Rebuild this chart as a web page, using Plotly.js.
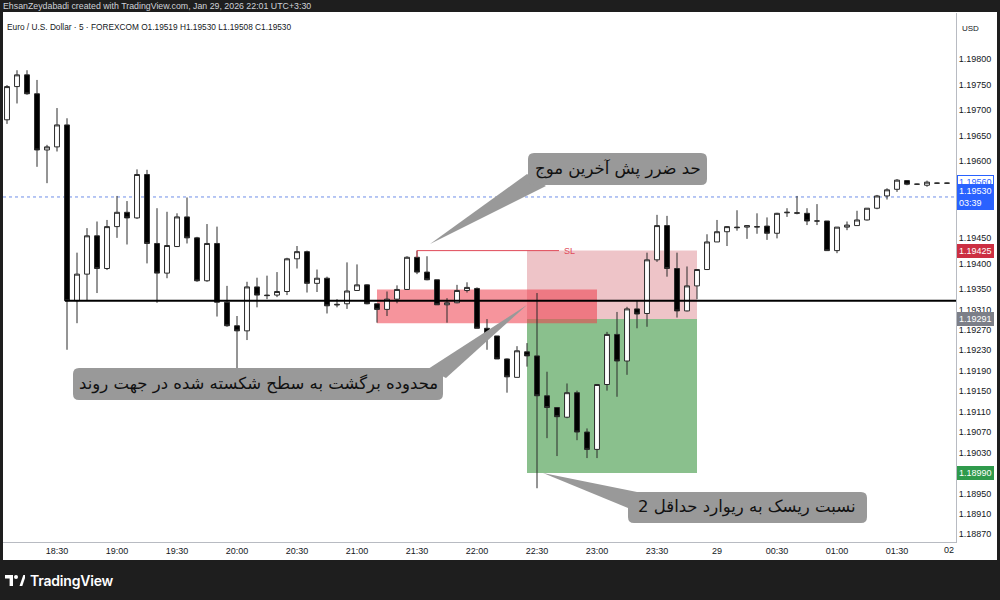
<!DOCTYPE html>
<html>
<head>
<meta charset="utf-8">
<script src="https://cdn.plot.ly/plotly-3.0.1.min.js"></script>
<style>
html,body{margin:0;padding:0;background:#1e1e1e;width:1000px;height:600px;overflow:hidden;position:relative;}
#topbar{position:absolute;left:3px;top:0;height:12px;line-height:13px;font-family:"Liberation Sans",Arial,sans-serif;font-size:8.8px;color:#cfd2d8;white-space:nowrap;}
#chart{position:absolute;left:3px;top:12px;width:994px;height:548px;background:#fff;}
#brand{position:absolute;left:5px;top:571px;height:18px;display:flex;align-items:center;}
#brand span{font-family:Inter,"Liberation Sans",sans-serif;font-size:14px;font-weight:600;color:#ffffff;margin-left:5px;letter-spacing:-0.2px;}
</style>
</head>
<body>
<div id="topbar">EhsanZeydabadi created with TradingView.com, Jan 29, 2026 22:01 UTC+3:30</div>
<div id="chart"></div>
<div id="brand">
<svg width="20" height="11" viewBox="0 0 20 11"><path d="M0,0 H8 V11 H4.6 V3.6 H0 Z" fill="#fff"/><circle cx="11" cy="2" r="2" fill="#fff"/><path d="M14.5,11 L18.3,0 H21 L17.3,11 Z" fill="#fff"/></svg>
<span>TradingView</span>
</div>
<script>
// ---- data (5-minute EUR/USD bars) ----
var times = ["18:05","18:10","18:15","18:20","18:25","18:30","18:35","18:40","18:45","18:50","18:55",
"19:00","19:05","19:10","19:15","19:20","19:25","19:30","19:35","19:40","19:45","19:50","19:55",
"20:00","20:05","20:10","20:15","20:20","20:25","20:30","20:35","20:40","20:45","20:50","20:55",
"21:00","21:05","21:10","21:15","21:20","21:25","21:30","21:35","21:40","21:45","21:50","21:55",
"22:00","22:05","22:10","22:15","22:20","22:25","22:30","22:35","22:40","22:45","22:50","22:55",
"23:00","23:05","23:10","23:15","23:20","23:25","23:30","23:35","23:40","23:45","23:50","23:55",
"00:00","00:05","00:10","00:15","00:20","00:25","00:30","00:35","00:40","00:45","00:50","00:55",
"01:00","01:05","01:10","01:15","01:20","01:25","01:30","01:35","01:40","01:45","01:50","01:55"];

var open = [1.19681,1.19746,1.19769,1.19732,1.19622,1.19628,1.19671,1.19327,1.19379,1.19454,1.19390,
1.19472,1.19500,1.19489,1.19574,1.19439,1.19381,1.19433,1.19491,1.19450,1.19366,1.19439,1.19324,
1.19278,1.19268,1.19354,1.19338,1.19338,1.19345,1.19409,1.19423,1.19361,1.19371,1.19320,1.19321,
1.19347,1.19358,1.19321,1.19310,1.19330,1.19349,1.19412,1.19383,1.19368,1.19319,1.19323,1.19347,
1.19351,1.19273,1.19258,1.19213,1.19177,1.19227,1.19219,1.19141,1.19118,1.19099,1.19147,1.19070,
1.19036,1.19163,1.19261,1.19209,1.19311,1.19302,1.19407,1.19474,1.19390,1.19307,1.19356,1.19388,
1.19442,1.19462,1.19471,1.19471,1.19471,1.19473,1.19459,1.19499,1.19498,1.19498,1.19483,1.19483,
1.19425,1.19471,1.19474,1.19485,1.19508,1.19532,1.19545,1.19562,1.19555,1.19553,1.19557,1.19557];

var high = [1.19749,1.19778,1.19778,1.19759,1.19632,1.19704,1.19684,1.19421,1.19469,1.19482,1.19485,
1.19532,1.19522,1.19584,1.19583,1.19508,1.19501,1.19498,1.19529,1.19452,1.19477,1.19472,1.19356,
1.19297,1.19364,1.19372,1.19376,1.19383,1.19411,1.19434,1.19425,1.19388,1.19374,1.19330,1.19402,
1.19398,1.19359,1.19321,1.19345,1.19357,1.19414,1.19425,1.19414,1.19368,1.19332,1.19358,1.19363,
1.19353,1.19291,1.19258,1.19214,1.19238,1.19244,1.19342,1.19188,1.19119,1.19165,1.19151,1.19077,
1.19164,1.19266,1.19305,1.19315,1.19327,1.19421,1.19495,1.19493,1.19421,1.19394,1.19389,1.19457,
1.19485,1.19473,1.19504,1.19475,1.19498,1.19490,1.19499,1.19508,1.19532,1.19508,1.19516,1.19483,
1.19471,1.19482,1.19503,1.19508,1.19534,1.19547,1.19565,1.19563,1.19556,1.19562,1.19558,1.19558];

var low = [1.19673,1.19713,1.19730,1.19589,1.19557,1.19619,1.19231,1.19283,1.19328,1.19342,1.19387,
1.19450,1.19437,1.19487,1.19400,1.19323,1.19371,1.19432,1.19439,1.19364,1.19364,1.19296,1.19276,
1.19186,1.19250,1.19314,1.19330,1.19334,1.19338,1.19390,1.19343,1.19344,1.19302,1.19314,1.19311,
1.19347,1.19320,1.19284,1.19297,1.19322,1.19348,1.19379,1.19367,1.19319,1.19284,1.19322,1.19343,
1.19273,1.19231,1.19213,1.19147,1.19177,1.19198,1.18960,1.19058,1.19023,1.19097,1.19054,1.19019,
1.19019,1.19151,1.19139,1.19182,1.19273,1.19276,1.19403,1.19374,1.19294,1.19306,1.19330,1.19387,
1.19442,1.19434,1.19464,1.19448,1.19458,1.19446,1.19449,1.19491,1.19496,1.19475,1.19475,1.19425,
1.19420,1.19465,1.19474,1.19484,1.19506,1.19525,1.19540,1.19553,1.19554,1.19550,1.19556,1.19556];

var close = [1.19746,1.19769,1.19732,1.19622,1.19628,1.19671,1.19327,1.19379,1.19454,1.19390,1.19472,
1.19500,1.19489,1.19574,1.19439,1.19381,1.19435,1.19491,1.19450,1.19366,1.19439,1.19324,1.19278,
1.19268,1.19354,1.19338,1.19337,1.19345,1.19409,1.19423,1.19361,1.19371,1.19317,1.19319,1.19346,
1.19358,1.19321,1.19310,1.19330,1.19349,1.19412,1.19383,1.19368,1.19319,1.19323,1.19347,1.19353,
1.19273,1.19258,1.19213,1.19178,1.19229,1.19219,1.19141,1.19118,1.19100,1.19147,1.19070,1.19036,
1.19163,1.19261,1.19209,1.19311,1.19301,1.19407,1.19474,1.19390,1.19307,1.19356,1.19388,1.19442,
1.19462,1.19472,1.19470,1.19474,1.19472,1.19459,1.19498,1.19500,1.19499,1.19483,1.19483,1.19425,
1.19471,1.19475,1.19485,1.19508,1.19532,1.19544,1.19563,1.19555,1.19555,1.19559,1.19557,1.19557];

// axis ticks
var xTickTimes = ["2026-01-28 18:30","2026-01-28 19:00","2026-01-28 19:30","2026-01-28 20:00","2026-01-28 20:30",
"2026-01-28 21:00","2026-01-28 21:30","2026-01-28 22:00","2026-01-28 22:30","2026-01-28 23:00","2026-01-28 23:30",
"2026-01-29 00:00","2026-01-29 00:30","2026-01-29 01:00","2026-01-29 01:30"];
var xTickLabels = ["18:30","19:00","19:30","20:00","20:30","21:00","21:30","22:00","22:30","23:00","23:30","29","00:30","01:00","01:30"];
var yTickVals = [1.19800,1.19750,1.19700,1.19650,1.19600,1.19450,1.19400,1.19350,1.19310,1.19270,1.19230,
1.19190,1.19150,1.19110,1.19070,1.19030,1.18950,1.18910,1.18870];

// key price levels from the drawing
var levelBreak = 1.19327;     // broken level (black line)
var zoneTop = 1.19349, zoneBottom = 1.19283;   // retest zone
var stopLoss = 1.19425, entry = 1.19291, target = 1.18990;
var lastPrice = 1.19530, alertPrice = 1.19560;

var dates = times.map(function(t){ return (t < "12:00" ? "2026-01-29 " : "2026-01-28 ") + t; });

var trace = {
  type: 'candlestick',
  x: dates, open: open, high: high, low: low, close: close,
  increasing: {line: {color: '#2a2a2a', width: 1}, fillcolor: '#ffffff'},
  decreasing: {line: {color: '#2a2a2a', width: 1}, fillcolor: '#000000'},
  hoverinfo: 'skip'
};

// page-pixel helpers for the drawn callouts (plot area: page x 3..956, y 13..542)
function px(X){ return (X - 3) / 953; }
function py(Y){ return (542 - Y) / 529; }
function rrect(x0, y0, x1, y1, r){
  var a = px(x0), b = px(x1), t = py(y0), u = py(y1), rx = r / 953, ry = r / 529;
  return 'M' + (a + rx) + ',' + t + ' L' + (b - rx) + ',' + t + ' Q' + b + ',' + t + ' ' + b + ',' + (t - ry) +
    ' L' + b + ',' + (u + ry) + ' Q' + b + ',' + u + ' ' + (b - rx) + ',' + u +
    ' L' + (a + rx) + ',' + u + ' Q' + a + ',' + u + ' ' + a + ',' + (u + ry) +
    ' L' + a + ',' + (t - ry) + ' Q' + a + ',' + t + ' ' + (a + rx) + ',' + t + ' Z';
}
function poly(pts){
  return pts.map(function(p, i){ return (i ? 'L' : 'M') + px(p[0]) + ',' + py(p[1]); }).join(' ') + ' Z';
}
var calloutGrey = '#999999';

var shapes = [
  {type:'line', xref:'paper', yref:'y', x0:0, x1:1, y0:lastPrice, y1:lastPrice, line:{color:'#6f8fe8', width:1, dash:'dot'}, layer:'below'},
  {type:'rect', xref:'x', yref:'y', x0:'2026-01-28 22:25', x1:'2026-01-28 23:50', y0:entry, y1:stopLoss,
   fillcolor:'rgba(210,100,110,0.38)', line:{width:0}, layer:'below'},
  {type:'rect', xref:'x', yref:'y', x0:'2026-01-28 22:25', x1:'2026-01-28 23:50', y0:target, y1:entry,
   fillcolor:'rgba(60,150,65,0.6)', line:{width:0}, layer:'below'},
  {type:'rect', xref:'x', yref:'y', x0:'2026-01-28 21:10', x1:'2026-01-28 23:00', y0:zoneBottom, y1:zoneTop,
   fillcolor:'rgba(238,60,75,0.55)', line:{width:0}, layer:'below'},
  {type:'line', xref:'x', yref:'y', x0:'2026-01-28 18:34', x1:'2026-01-29 03:00', y0:levelBreak, y1:levelBreak,
   line:{color:'#000000', width:2}, layer:'above'},
  {type:'line', xref:'x', yref:'y', x0:'2026-01-28 21:30', x1:'2026-01-28 21:30', y0:1.19412, y1:stopLoss,
   line:{color:'#e04a58', width:1}, layer:'above'},
  {type:'line', xref:'x', yref:'y', x0:'2026-01-28 21:30', x1:'2026-01-28 22:41', y0:stopLoss, y1:stopLoss,
   line:{color:'#e04a58', width:1}, layer:'above'},
  {type:'path', xref:'paper', yref:'paper', path:poly([[430,244],[527,174],[546,186]]), fillcolor:calloutGrey, line:{width:0}, layer:'above'},
  {type:'path', xref:'paper', yref:'paper', path:rrect(528,153,707,185,6), fillcolor:calloutGrey, line:{width:0}, layer:'above'},
  {type:'path', xref:'paper', yref:'paper', path:poly([[527,305],[428,369],[446,378]]), fillcolor:calloutGrey, line:{width:0}, layer:'above'},
  {type:'path', xref:'paper', yref:'paper', path:rrect(73,368,443,400,6), fillcolor:calloutGrey, line:{width:0}, layer:'above'},
  {type:'path', xref:'paper', yref:'paper', path:poly([[543,473],[637,492],[628,508]]), fillcolor:calloutGrey, line:{width:0}, layer:'above'},
  {type:'path', xref:'paper', yref:'paper', path:rrect(628,492,867,523,6), fillcolor:calloutGrey, line:{width:0}, layer:'above'}
];

var pfont = {family:'DejaVu Sans, Noto Sans, sans-serif', size:16.5, color:'#111111'};
function priceTag(y, text, bg, fg, border){
  return {xref:'paper', yref:'y', x:1, xanchor:'left', xshift:1, y:y, yanchor:'middle', text:text, showarrow:false,
    font:{family:'Liberation Sans, Arial, sans-serif', size:9, color:fg}, bgcolor:bg,
    bordercolor:border || bg, borderwidth:1, borderpad:1, align:'left'};
}

var annotations = [
  {xref:'paper', yref:'paper', x:px(618), y:py(169), text:'حد ضرر پش آخرین موج', showarrow:false, font:pfont, xanchor:'center', yanchor:'middle'},
  {xref:'paper', yref:'paper', x:px(258), y:py(384), text:'محدوده برگشت به سطح شکسته شده در جهت روند', showarrow:false, font:pfont, xanchor:'center', yanchor:'middle'},
  {xref:'paper', yref:'paper', x:px(747), y:py(507), text:'نسبت ریسک به ریوارد حداقل 2', showarrow:false, font:pfont, xanchor:'center', yanchor:'middle'},
  {xref:'x', yref:'y', x:'2026-01-28 22:46', y:stopLoss, text:'SL', showarrow:false, font:{family:'Liberation Sans, Arial, sans-serif', size:9, color:'#e04a58'}, xanchor:'center', yanchor:'middle'},
  priceTag(alertPrice, '1.19560', '#ffffff', '#2962ff', '#2962ff'),
  priceTag(lastPrice, '1.19530<br>03:39', '#2962ff', '#ffffff'),
  priceTag(stopLoss, '1.19425', '#cc2f42', '#ffffff'),
  priceTag(entry, '1.19291', '#7c7f88', '#ffffff'),
  priceTag(target, '1.18990', '#2f9a4c', '#ffffff'),
  {xref:'paper', yref:'paper', x:px(970), y:py(29), text:'USD', showarrow:false, font:{family:'Liberation Sans, Arial, sans-serif', size:8, color:'#131722'}, xanchor:'center', yanchor:'middle'},
  {xref:'paper', yref:'paper', x:1, y:py(550), text:'02', showarrow:false, font:{family:'Liberation Sans, Arial, sans-serif', size:9, color:'#131722'}, xanchor:'right', yanchor:'middle'}
];

var layout = {
  width: 994, height: 548,
  margin: {l:0, r:41, t:1, b:18, pad:0},
  paper_bgcolor: '#ffffff', plot_bgcolor: '#ffffff',
  showlegend: false,
  title: {text: 'Euro / U.S. Dollar · 5 · FOREXCOM O1.19519 H1.19530 L1.19508 C1.19530',
          xref:'container', yref:'container', x: 4/994, xanchor:'left', y: 1 - 15/548, yanchor:'middle',
          font:{family:'Liberation Sans, Arial, sans-serif', size:8.3, color:'#131722'}},
  xaxis: {type:'date', range:['2026-01-28 18:03:00','2026-01-29 01:59:30'], rangeslider:{visible:false},
          showgrid:false, zeroline:false, showline:true, linecolor:'#b8bbc2', linewidth:1,
          tickmode:'array', tickvals:xTickTimes, ticktext:xTickLabels, ticks:'',
          tickfont:{family:'Liberation Sans, Arial, sans-serif', size:9, color:'#131722'}, fixedrange:true},
  yaxis: {side:'right', range:[1.1885479, 1.1989002], showgrid:false, zeroline:false, showline:true,
          linecolor:'#b8bbc2', linewidth:1, tickmode:'array', tickvals:yTickVals, tickformat:'.5f', ticks:'',
          tickfont:{family:'Liberation Sans, Arial, sans-serif', size:9, color:'#131722'}, fixedrange:true},
  shapes: shapes,
  annotations: annotations
};

Plotly.newPlot('chart', [trace], layout, {staticPlot:true, displayModeBar:false});
</script>
</body>
</html>
